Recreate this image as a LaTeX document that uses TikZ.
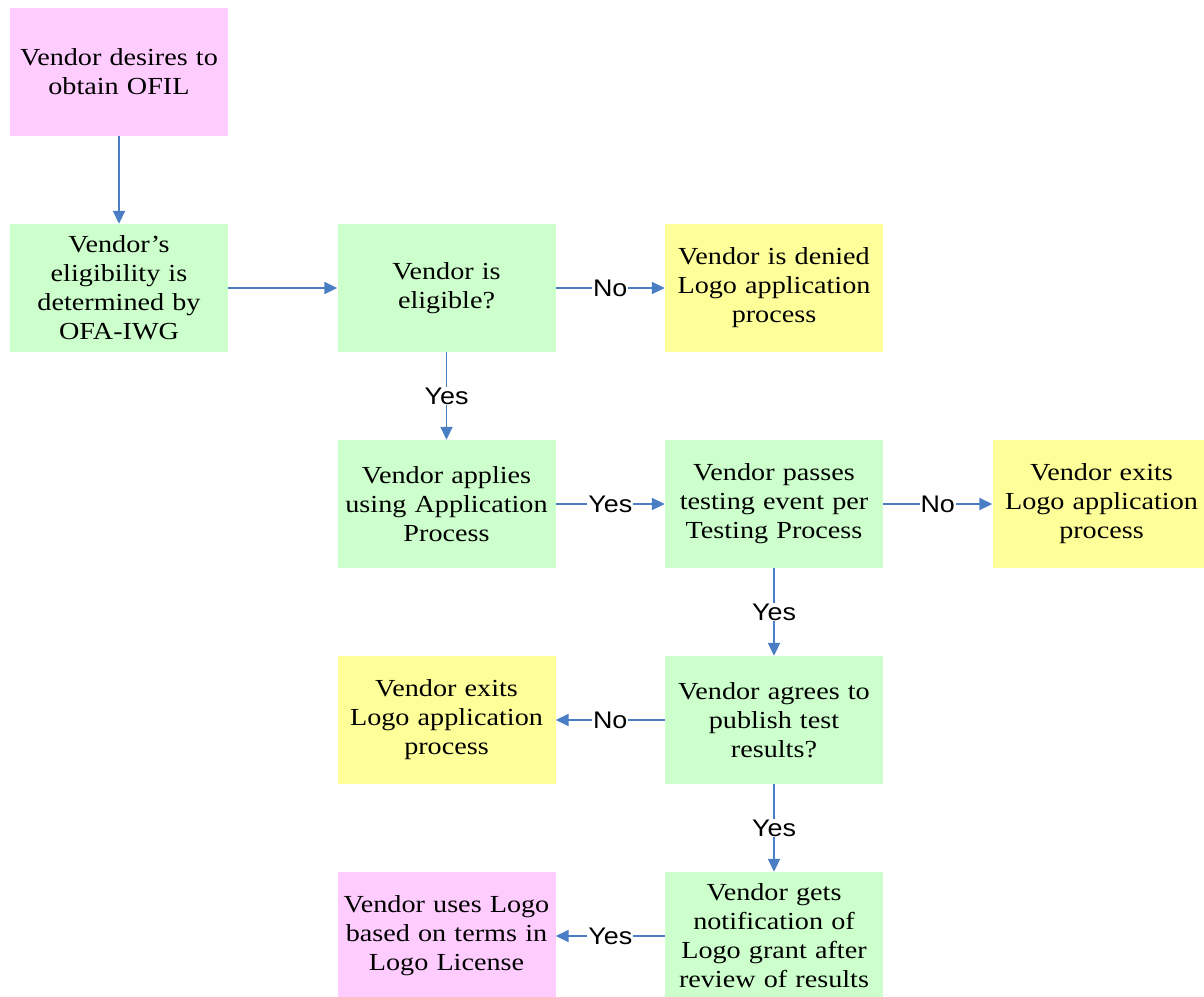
\documentclass[tikz,border=0pt]{standalone}
\usepackage{fontspec}
\setmainfont{Liberation Serif}[FakeStretch=1.15]
\newfontfamily\lblfont{Liberation Sans}[FakeStretch=1.12]
\usetikzlibrary{arrows.meta,positioning}
\definecolor{pinkbox}{RGB}{255,204,255}
\definecolor{greenbox}{RGB}{204,255,204}
\definecolor{yellowbox}{RGB}{255,255,153}
\definecolor{flowblue}{RGB}{74,126,196}
\tikzset{
	box/.style={rectangle,minimum width=218pt,minimum height=128pt,text width=214pt,
		align=center,inner sep=0pt,font=\fontsize{24.5}{29}\selectfont},
	start/.style={box,fill=pinkbox},
	act/.style={box,fill=greenbox},
	stop/.style={box,fill=yellowbox},
	lbl/.style={fill=white,inner sep=1pt,font=\lblfont\fontsize{24}{24}\selectfont}
}

\begin{document}
\begin{tikzpicture}[x=1pt,y=-1pt,node distance=216pt and 327.5pt,on grid,
	every edge/.style={draw=flowblue,line width=1.8pt,-{Triangle[length=13pt,width=12pt]}}]
	\useasboundingbox (0,0) rectangle (1204,996);
	\node[start](q0) at (119,72) {Vendor desires to\\obtain OFIL};
	\node[act](q1)[below=of q0] {Vendor's\\eligibility is\\determined by\\OFA-IWG};
	\node[act](q2)[right=of q1] {Vendor is\\eligible?};
	\node[stop](q3)[right=of q2] {Vendor is denied\\Logo application\\process};
	\node[act](q4)[below=of q2] {Vendor applies\\using Application\\Process};
	\node[act](q5)[right=of q4] {Vendor passes\\testing event per\\Testing Process};
	\node[stop](q6)[right=of q5] {Vendor exits\\Logo application\\process};
	\node[act](q7)[below=of q5] {Vendor agrees to\\publish test\\results?};
	\node[stop](q8)[left=of q7] {Vendor exits\\Logo application\\process};
	\node[act](q9)[below=of q7] {Vendor gets\\notification of\\Logo grant after\\review of results};
	\node[start](q10)[left=of q9] {Vendor uses Logo\\based on terms in\\Logo License};
	\path
	(q0) edge (q1)
	(q1) edge (q2)
	(q2) edge node[lbl] {No} (q3)
	(q2) edge node[lbl] {Yes} (q4)
	(q4) edge node[lbl] {Yes} (q5)
	(q5) edge node[lbl] {No} (q6)
	(q5) edge node[lbl] {Yes} (q7)
	(q7) edge node[lbl] {No} (q8)
	(q7) edge node[lbl] {Yes} (q9)
	(q9) edge node[lbl] {Yes} (q10);
\end{tikzpicture}
\end{document}
